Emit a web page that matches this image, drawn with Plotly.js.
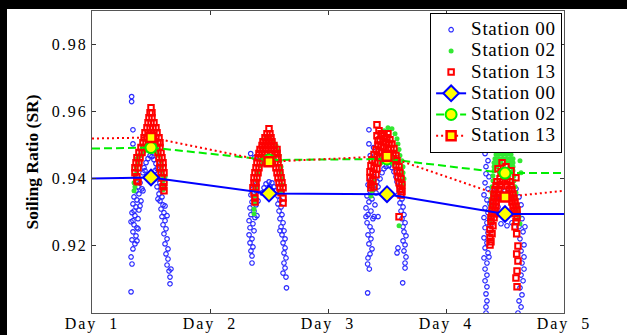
<!DOCTYPE html>
<html><head><meta charset="utf-8">
<script src="https://cdn.plot.ly/plotly-3.0.1.min.js"></script>
<style>
html,body{margin:0;padding:0;background:#000;width:627px;height:335px;overflow:hidden}
#chart{position:absolute;left:7px;top:9px;width:620px;height:326px;background:#fff}
.xtick text, .ytick text{letter-spacing:2px}
.legendtext{font-size:19px !important;letter-spacing:0.7px}
</style></head><body><div id="chart"></div><script>
// x tick positions / labels
const dayTicks = [1, 2, 3, 4, 5];
const dayLabels = ['Day\u00a0\u00a01', 'Day\u00a0\u00a02', 'Day\u00a0\u00a03', 'Day\u00a0\u00a04', 'Day\u00a0\u00a05'];
const srTicks = [0.92, 0.94, 0.96, 0.98];

// Daily mean soiling ratio lines
const meanX = [1, 1.5, 2.5, 3.5, 4.5, 5];
const mean00 = [0.9401, 0.9404, 0.9356, 0.9354, 0.9295, 0.9295];
const mean02 = [0.9490, 0.9493, 0.9456, 0.9459, 0.9417, 0.9417];
const mean13 = [0.9520, 0.9523, 0.9451, 0.9467, 0.9346, 0.9364];

// Station 00 measurements
const s00_x = [
1.336,1.336,1.331,1.347,1.347,
1.407,1.390,1.424,1.373,1.398,1.356,1.381,1.415,1.347,1.373,1.398,1.339,1.364,1.390,1.331,1.356,1.381,1.347,1.373,1.339,1.364,1.347,1.331,1.339,1.381,1.407,1.432,1.356,1.390,1.347,
1.432,1.441,1.458,1.475,1.492,1.508,1.525,1.542,1.551,1.559,1.449,1.534,
1.559,1.576,1.551,1.585,1.568,1.593,1.576,1.602,1.585,1.610,1.593,1.619,1.602,1.627,1.610,1.636,1.619,1.644,1.627,1.644,1.636,1.653,1.661,1.661,1.669,1.559,1.619,1.636,
2.345,2.379,2.648,
2.390,2.364,2.398,2.347,2.381,2.356,2.390,2.339,2.373,2.347,2.381,2.331,2.364,2.339,2.373,2.331,2.356,2.339,2.364,2.347,2.356,2.356,2.407,2.398,
2.441,2.458,2.475,2.500,2.525,2.542,2.559,2.508,2.525,
2.576,2.593,2.576,2.602,2.585,2.610,2.593,2.619,2.602,2.627,2.610,2.636,2.619,2.636,2.627,2.644,2.627,2.636,2.619,2.644,2.593,
3.347,3.347,3.358,3.386,3.336,3.336,3.350,
3.390,3.364,3.415,3.339,3.381,3.356,3.407,3.331,3.373,3.347,3.398,3.322,3.364,3.339,3.381,3.331,3.356,3.373,3.339,3.364,3.347,3.373,3.356,3.339,3.424,3.322,3.390,3.424,
3.441,3.458,3.475,3.492,3.517,3.542,3.559,3.576,
3.585,3.602,3.619,3.593,3.627,3.610,3.636,3.619,3.644,3.627,3.653,3.636,3.644,3.661,3.636,3.653,3.593,3.644,3.661,3.653,3.633,3.653,3.585,
4.347,4.331,4.339,4.610,
4.356,4.339,4.364,4.331,4.356,4.322,4.347,4.373,4.331,4.356,4.322,4.347,4.331,4.356,4.322,4.347,4.331,4.356,4.322,4.347,4.331,4.347,4.331,4.347,4.339,4.347,4.339,4.339,4.373,4.364,4.424,4.432,4.441,
4.458,4.475,4.500,4.525,4.542,4.466,4.517,
4.593,4.619,4.636,4.610,4.644,4.619,4.653,4.627,4.661,4.636,4.661,4.644,4.661,4.636,4.653,4.627,4.644,4.619,4.636,4.610,4.669,4.568,4.559
];
const s00_y = [
0.9645,0.9630,0.9063,0.9546,0.9504,
0.9388,0.9376,0.9370,0.9364,0.9355,0.9346,0.9337,0.9334,0.9325,0.9316,0.9307,0.9299,0.9290,0.9281,0.9272,0.9263,0.9254,0.9242,0.9230,0.9218,0.9206,0.9191,0.9167,0.9146,0.9215,0.9319,0.9364,0.9304,0.9251,0.9275,
0.9418,0.9433,0.9448,0.9460,0.9469,0.9466,0.9457,0.9445,0.9430,0.9415,0.9424,0.9424,
0.9400,0.9388,0.9376,0.9367,0.9355,0.9346,0.9334,0.9322,0.9310,0.9299,0.9287,0.9275,0.9263,0.9251,0.9236,0.9221,0.9206,0.9191,0.9176,0.9161,0.9143,0.9125,0.9107,0.9087,0.9131,0.9340,0.9319,0.9290,
0.9475,0.9463,0.9075,
0.9382,0.9370,0.9361,0.9352,0.9343,0.9331,0.9322,0.9313,0.9304,0.9293,0.9284,0.9275,0.9266,0.9254,0.9245,0.9233,0.9221,0.9209,0.9197,0.9185,0.9170,0.9149,0.9334,0.9290,
0.9358,0.9373,0.9385,0.9391,0.9388,0.9376,0.9364,0.9376,0.9364,
0.9349,0.9337,0.9325,0.9316,0.9304,0.9293,0.9281,0.9269,0.9257,0.9245,0.9233,0.9221,0.9209,0.9194,0.9179,0.9164,0.9149,0.9134,0.9119,0.9107,0.9245,
0.9546,0.9504,0.9469,0.9493,0.9060,0.9146,0.9131,
0.9406,0.9397,0.9391,0.9382,0.9373,0.9364,0.9358,0.9349,0.9340,0.9331,0.9322,0.9313,0.9304,0.9293,0.9281,0.9269,0.9257,0.9245,0.9233,0.9221,0.9206,0.9191,0.9176,0.9164,0.9376,0.9287,0.9287,0.9287,
0.9400,0.9418,0.9430,0.9436,0.9439,0.9433,0.9421,0.9406,
0.9391,0.9376,0.9364,0.9352,0.9340,0.9328,0.9316,0.9304,0.9293,0.9281,0.9269,0.9257,0.9242,0.9230,0.9215,0.9203,0.9194,0.9185,0.9167,0.9149,0.9090,0.9134,0.9179,
0.9504,0.9475,0.9415,0.9501,
0.9454,0.9436,0.9406,0.9388,0.9370,0.9352,0.9337,0.9325,0.9313,0.9299,0.9284,0.9269,0.9254,0.9239,0.9224,0.9209,0.9194,0.9179,0.9164,0.9149,0.9131,0.9113,0.9096,0.9078,0.9057,0.9036,0.9018,0.9000,0.9260,0.9167,0.9364,0.9346,0.9316,
0.9340,0.9355,0.9364,0.9358,0.9343,0.9266,0.9260,
0.9370,0.9346,0.9322,0.9299,0.9281,0.9257,0.9242,0.9221,0.9203,0.9185,0.9167,0.9149,0.9131,0.9113,0.9096,0.9075,0.9054,0.9036,0.9018,0.9000,0.9257,0.9299,0.9269
];

// Station 02 measurements
const s02_x = [
1.356,1.364,1.356,1.373,1.364,1.381,1.373,1.390,1.381,1.398,
1.415,1.432,1.449,1.466,1.492,1.517,1.534,1.551,1.568,
1.585,1.593,1.593,1.602,1.602,1.610,1.602,1.619,
2.475,2.508,2.534,2.559,2.576,2.585,2.593,2.602,2.602,2.610,2.610,2.602,
2.441,2.424,2.407,2.398,2.390,2.381,2.381,2.373,2.373,
2.449,2.475,2.508,2.534,
3.542,3.508,3.568,3.585,3.593,3.602,3.610,3.627,3.636,3.636,3.644,3.636,
3.475,3.500,3.525,3.551,3.449,
3.373,3.364,3.381,3.390,3.602,3.475,
4.483,4.466,4.500,4.449,4.483,4.517,4.441,4.475,4.508,4.534,4.432,4.458,4.492,4.525,4.551,
4.424,4.449,4.483,4.517,4.551,4.415,4.441,4.475,4.508,4.542,4.568,4.407,4.432,4.466,4.517,4.542,4.568,
4.407,4.432,4.542,4.568,4.407,4.568,4.398,4.576,4.398,4.576,4.390,4.585,4.390,4.593,4.381,4.593,
4.381,4.602,4.373,4.610,4.373,4.619,4.373,4.627,4.627,4.636
];
const s02_y = [
0.9364,0.9376,0.9388,0.9400,0.9412,0.9424,0.9436,0.9448,0.9460,0.9469,
0.9469,0.9478,0.9484,0.9490,0.9496,0.9493,0.9487,0.9478,0.9469,
0.9454,0.9439,0.9424,0.9409,0.9394,0.9379,0.9367,0.9406,
0.9525,0.9525,0.9513,0.9499,0.9484,0.9469,0.9454,0.9436,0.9418,0.9400,0.9382,0.9364,
0.9460,0.9439,0.9418,0.9394,0.9370,0.9349,0.9328,0.9310,0.9296,
0.9445,0.9448,0.9451,0.9445,
0.9549,0.9552,0.9534,0.9519,0.9504,0.9487,0.9469,0.9454,0.9436,0.9418,0.9400,0.9382,
0.9454,0.9451,0.9451,0.9445,0.9448,
0.9364,0.9349,0.9379,0.9394,0.9260,0.9543,
0.9531,0.9519,0.9519,0.9507,0.9507,0.9507,0.9496,0.9496,0.9496,0.9496,0.9484,0.9484,0.9484,0.9484,0.9484,
0.9472,0.9472,0.9472,0.9472,0.9472,0.9460,0.9460,0.9460,0.9460,0.9460,0.9460,0.9448,0.9448,0.9448,0.9448,0.9448,0.9448,
0.9436,0.9436,0.9436,0.9436,0.9424,0.9424,0.9409,0.9409,0.9394,0.9394,0.9376,0.9376,0.9358,0.9358,0.9340,0.9340,
0.9322,0.9322,0.9304,0.9304,0.9287,0.9287,0.9272,0.9266,0.9454,0.9418
];

// Station 13 measurements
const s13_x = [
1.500,1.492,1.508,1.483,1.508,1.475,1.500,1.525,1.466,1.492,1.517,1.542,1.449,1.475,1.500,1.525,1.551,1.441,1.466,1.517,1.542,1.568,1.432,1.458,1.534,1.559,1.576,
1.415,1.441,1.398,1.424,1.381,1.407,1.373,1.398,1.364,1.390,1.364,1.381,1.381,1.390,
1.551,1.576,1.559,1.585,1.568,1.593,1.576,1.602,1.576,1.602,1.585,1.610,1.593,1.610,1.602,1.610,
2.500,2.483,2.508,2.466,2.492,2.517,2.449,2.475,2.500,2.525,2.441,2.466,2.492,2.517,2.542,2.424,2.449,2.475,2.517,2.542,2.568,2.415,2.441,2.466,2.525,2.551,2.568,2.407,2.432,2.458,2.534,2.559,2.576,
2.398,2.424,2.390,2.415,2.381,2.407,2.373,2.398,2.373,2.390,2.364,2.390,2.373,2.381,2.381,
2.551,2.576,2.559,2.585,2.568,2.593,2.576,2.602,2.585,2.610,2.593,2.619,2.602,2.619,2.619,
3.415,3.432,3.415,3.449,3.475,3.500,3.525,3.441,3.466,3.492,3.517,3.542,3.424,3.449,3.475,3.508,3.534,3.559,3.407,3.432,3.458,3.525,3.551,3.576,3.390,3.415,3.441,3.559,3.585,
3.483,3.508,3.424,
3.373,3.398,3.424,3.364,3.390,3.415,3.356,3.381,3.407,3.356,3.381,3.364,3.390,3.364,
3.576,3.602,3.585,3.610,3.593,3.619,3.602,3.627,3.610,3.627,3.619,3.602,
4.475,4.585,4.593,4.492,4.458,4.517,4.432,4.483,4.542,4.424,4.458,4.517,4.551,4.415,4.449,4.534,4.559,4.407,4.441,4.542,4.568,4.407,4.432,4.551,4.576,4.398,4.424,4.559,4.585,4.398,4.424,4.568,4.593,4.390,4.415,4.576,4.602,4.390,4.415,4.585,4.602,4.381,4.407,4.593,4.381,4.398,4.373,4.390,4.373,4.381,4.373,
4.599,4.610,4.599,4.610,4.602,4.593,4.602,4.585,
4.441,4.508,4.551,4.466
];
const s13_y = [
0.9612,0.9597,0.9597,0.9582,0.9582,0.9567,0.9567,0.9567,0.9552,0.9552,0.9552,0.9552,0.9537,0.9537,0.9537,0.9537,0.9537,0.9522,0.9522,0.9522,0.9522,0.9522,0.9507,0.9507,0.9507,0.9507,0.9507,
0.9493,0.9493,0.9478,0.9478,0.9463,0.9463,0.9448,0.9448,0.9433,0.9433,0.9418,0.9406,0.9394,0.9391,
0.9493,0.9493,0.9478,0.9478,0.9463,0.9463,0.9448,0.9448,0.9433,0.9433,0.9418,0.9418,0.9403,0.9388,0.9376,0.9364,
0.9549,0.9534,0.9534,0.9522,0.9522,0.9522,0.9510,0.9510,0.9510,0.9510,0.9499,0.9499,0.9499,0.9499,0.9499,0.9487,0.9487,0.9487,0.9487,0.9487,0.9487,0.9475,0.9475,0.9475,0.9475,0.9475,0.9475,0.9463,0.9463,0.9463,0.9463,0.9463,0.9463,
0.9448,0.9448,0.9433,0.9433,0.9418,0.9418,0.9403,0.9403,0.9388,0.9388,0.9373,0.9373,0.9358,0.9343,0.9331,
0.9448,0.9448,0.9433,0.9433,0.9418,0.9418,0.9403,0.9403,0.9388,0.9388,0.9373,0.9373,0.9358,0.9343,0.9328,
0.9561,0.9543,0.9528,0.9534,0.9528,0.9522,0.9516,0.9516,0.9510,0.9507,0.9504,0.9504,0.9501,0.9496,0.9493,0.9490,0.9490,0.9490,0.9487,0.9481,0.9478,0.9475,0.9475,0.9469,0.9472,0.9466,0.9463,0.9460,0.9454,
0.9519,0.9534,0.9513,
0.9457,0.9451,0.9448,0.9439,0.9433,0.9430,0.9421,0.9415,0.9412,0.9403,0.9394,0.9382,0.9376,0.9373,
0.9442,0.9436,0.9424,0.9418,0.9406,0.9400,0.9388,0.9382,0.9370,0.9361,0.9352,0.9287,
0.9448,0.9499,0.9403,0.9409,0.9400,0.9400,0.9391,0.9391,0.9391,0.9379,0.9379,0.9379,0.9379,0.9367,0.9367,0.9367,0.9367,0.9355,0.9355,0.9355,0.9355,0.9343,0.9343,0.9343,0.9343,0.9331,0.9331,0.9331,0.9331,0.9319,0.9319,0.9319,0.9319,0.9307,0.9307,0.9307,0.9307,0.9296,0.9296,0.9296,0.9284,0.9284,0.9284,0.9272,0.9272,0.9260,0.9248,0.9236,0.9224,0.9212,0.9203,
0.9236,0.9200,0.9176,0.9155,0.9125,0.9104,0.9078,0.9257,
0.9430,0.9436,0.9424,0.9421
];

const C00 = '#0000ff', C02 = '#00ee00', C13 = '#ff0000';
const SERIF = 'Liberation Serif, Times New Roman, Times, serif';

function ext(m) { // flat extension segments at the ends of each mean line
  return {x: [meanX[0], meanX[1], null, meanX[4], meanX[5]], y: [m[0], m[1], null, m[4], m[5]]};
}
const mid = a => a.slice(1, 5);

const traces = [
  {type:'scatter', mode:'markers', name:'Station 00', x:s00_x, y:s00_y,
   marker:{symbol:'circle-open', size:4.5, color:'#2a2aff', line:{width:1.2, color:'#2a2aff'}}},
  {type:'scatter', mode:'markers', name:'Station 02', x:s02_x, y:s02_y,
   marker:{symbol:'circle', size:5, color:'#33e833'}},
  {type:'scatter', mode:'markers', name:'Station 13', x:s13_x, y:s13_y,
   marker:{symbol:'square-open', size:5.5, color:'#ff0000', line:{width:2, color:'#ff0000'}}},
  Object.assign({type:'scatter', mode:'lines', showlegend:false, hoverinfo:'skip',
   line:{color:C00, width:2}}, ext(mean00)),
  Object.assign({type:'scatter', mode:'lines', showlegend:false, hoverinfo:'skip',
   line:{color:C02, width:2, dash:'8px,4px'}}, ext(mean02)),
  Object.assign({type:'scatter', mode:'lines', showlegend:false, hoverinfo:'skip',
   line:{color:C13, width:2, dash:'2px,3px'}}, ext(mean13)),
  {type:'scatter', mode:'lines+markers', name:'Station 00', x:mid(meanX), y:mid(mean00),
   line:{color:C00, width:2},
   marker:{symbol:'diamond', size:12, color:'#ffff00', line:{color:C00, width:2}}},
  {type:'scatter', mode:'lines+markers', name:'Station 02', x:mid(meanX), y:mid(mean02),
   line:{color:C02, width:2, dash:'8px,4px'},
   marker:{symbol:'circle', size:11, color:'#ffff00', line:{color:C02, width:2}}},
  {type:'scatter', mode:'lines+markers', name:'Station 13', x:mid(meanX), y:mid(mean13),
   line:{color:C13, width:2, dash:'2px,3px'},
   marker:{symbol:'square', size:9, color:'#ffff00', line:{color:C13, width:2.5}}}
];

const axisCommon = {
  showline:true, linecolor:'#555', linewidth:1, mirror:'ticks',
  ticks:'inside', ticklen:4, tickcolor:'#333', tickwidth:1,
  showgrid:false, zeroline:false,
  tickfont:{family:SERIF, size:16, color:'#000'}
};

const layout = {
  width:620, height:326,
  margin:{l:85, r:63, t:2, b:22},
  paper_bgcolor:'#fff', plot_bgcolor:'#fff',
  showlegend:true,
  xaxis:Object.assign({}, axisCommon, {range:[1,5], tickvals:dayTicks, ticktext:dayLabels, ticklabelstandoff:-4}),
  yaxis:Object.assign({}, axisCommon, {range:[0.90,0.99], tickvals:srTicks, tickformat:'.2f',
    title:{text:'Soiling Ratio (SR)', standoff:8,
      font:{family:SERIF, size:17.5, weight:'bold', color:'#000'}}}),
  legend:{x:0.996, y:0.993, xanchor:'right', yanchor:'top', bgcolor:'#fff',
    bordercolor:'#000', borderwidth:1, tracegroupgap:0,
    font:{family:SERIF, size:14, color:'#000'}}
};

Plotly.newPlot('chart', traces, layout, {displayModeBar:false, staticPlot:true});
</script></body></html>
